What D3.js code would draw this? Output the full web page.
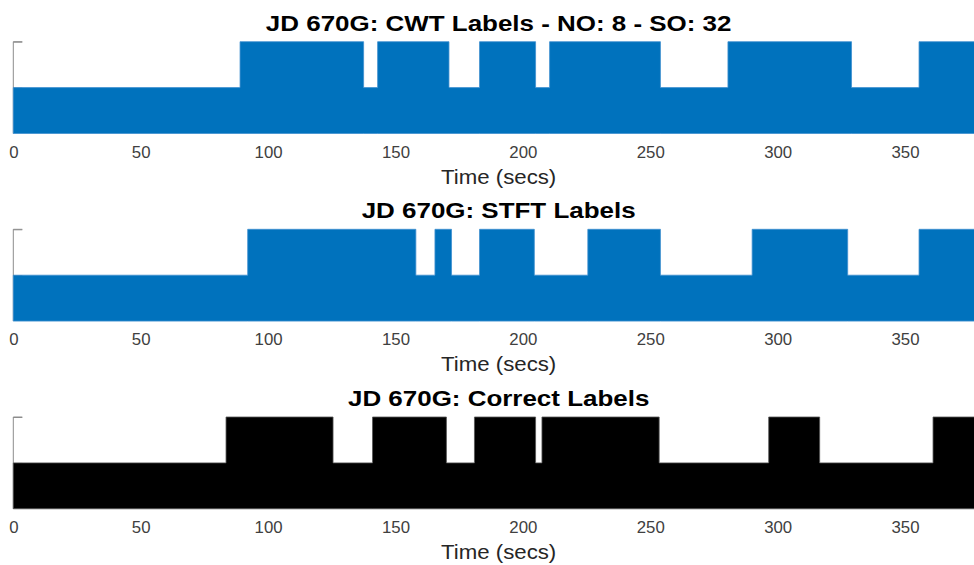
<!DOCTYPE html>
<html lang="en">
<head>
    <meta charset="UTF-8">
    <title>JD 670G Labels</title>
    <script src="https://d3js.org/d3.v7.min.js"></script>
    <style>
        body {
            margin: 0;
            background-color: white;
            font-family: "Liberation Sans", Arial, sans-serif;
        }
        svg { display: block; }
    </style>
</head>
<body>
    <div id="chart"></div>
    <script>
        // change points (secs) and the label level that starts there
        const cwtTimes = [0, 89, 137.5, 143, 171, 183, 205, 210.5, 254, 280.5, 329, 355.5, 381];
        const cwtLevels = [1, 2, 1, 2, 1, 2, 1, 2, 1, 2, 1, 2, 2];

        const stftTimes = [0, 92, 158, 165.5, 172, 183, 204.5, 225.5, 254, 290, 327.5, 355.5, 381];
        const stftLevels = [1, 2, 1, 2, 1, 2, 1, 2, 1, 2, 1, 2, 2];

        const correctTimes = [0, 83.5, 125.5, 141, 170, 181, 205, 207.5, 253.5, 296.5, 316.5, 361, 381];
        const correctLevels = [1, 2, 1, 2, 1, 2, 1, 2, 1, 2, 1, 2, 2];

        const titles = [
            "JD 670G: CWT Labels - NO: 8 - SO: 32",
            "JD 670G: STFT Labels",
            "JD 670G: Correct Labels"
        ];
        const xTicks = [0, 50, 100, 150, 200, 250, 300, 350];
        const yTicks = [1, 2];
        const xLabel = "Time (secs)";

        const width = 974;
        const height = 565;

        const panels = [
            { times: cwtTimes, levels: cwtLevels, title: titles[0], top: 41.7, fill: "#0072bd", edge: "#3f8fcf" },
            { times: stftTimes, levels: stftLevels, title: titles[1], top: 229.3, fill: "#0072bd", edge: "#3f8fcf" },
            { times: correctTimes, levels: correctLevels, title: titles[2], top: 417, fill: "#000000", edge: "#555555" }
        ];
        const plotH = 91.8;

        const svg = d3.select("#chart").append("svg")
            .attr("width", width)
            .attr("height", height);

        const x = d3.scaleLinear().domain([0, 381]).range([13.3, 984]);

        panels.forEach(p => {
            const y = d3.scaleLinear().domain([0, 2]).range([p.top + plotH, p.top]);
            const g = svg.append("g");
            const data = p.times.map((t, i) => ({ t: t, v: p.levels[i] }));

            // y axis: line + inward ticks, no labels
            const yAxis = g.append("g")
                .attr("transform", `translate(${x(0)},0)`)
                .call(d3.axisRight(y).tickValues(yTicks).tickSize(9).tickFormat(""));
            yAxis.select(".domain").attr("stroke", "#8c8c8c").attr("d", `M9,${y(2)}H0V${y(0)}`);
            yAxis.selectAll(".tick line").attr("stroke", "#8c8c8c");

            const area = d3.area()
                .curve(d3.curveStepAfter)
                .x(d => x(d.t))
                .y0(y(0))
                .y1(d => y(d.v));

            g.append("path")
                .datum(data)
                .attr("d", area)
                .attr("fill", p.fill)
                .attr("stroke", p.edge)
                .attr("stroke-width", 0.8);

            // x axis tick labels only
            const xAxis = g.append("g")
                .attr("transform", `translate(0,${p.top + plotH})`)
                .call(d3.axisBottom(x).tickValues(xTicks).tickSize(0).tickPadding(0));
            xAxis.select(".domain").remove();
            xAxis.selectAll(".tick text")
                .attr("y", 0)
                .attr("dy", 0)
                .attr("transform", "translate(0,24) scale(1.05,1)")
                .attr("fill", "#404040")
                .style("font-family", "'Liberation Sans', Arial, sans-serif")
                .style("font-size", "16px");

            g.append("text")
                .attr("transform", `translate(${(x.range()[0] + x.range()[1]) / 2},${p.top + plotH + 50}) scale(1.14,1)`)
                .attr("text-anchor", "middle")
                .attr("fill", "#262626")
                .style("font-size", "19.5px")
                .text(xLabel);

            g.append("text")
                .attr("transform", `translate(${(x.range()[0] + x.range()[1]) / 2},${p.top - 11}) scale(1.18,1)`)
                .attr("text-anchor", "middle")
                .attr("fill", "#000")
                .style("font-size", "22px")
                .style("font-weight", "bold")
                .text(p.title);
        });
    </script>
</body>
</html>
